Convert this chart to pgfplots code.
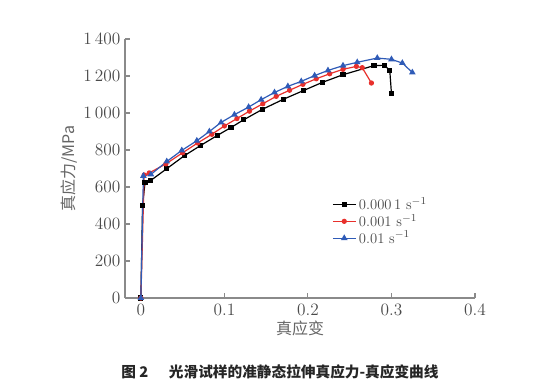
\documentclass[border=0pt]{standalone}
\usepackage{pgfplots}
\pgfplotsset{compat=1.18}
\usepackage{fontspec}
\newfontfamily\cjk{Noto Sans CJK SC}
\definecolor{cred}{HTML}{E8302C}
\definecolor{cblue}{HTML}{2F5BB7}
\definecolor{axgray}{HTML}{8A8A8A}
\definecolor{txt}{HTML}{4A4A4A}
\begin{document}
\begin{tikzpicture}
\path[use as bounding box] (0,0) rectangle (420pt,289.5pt);
\begin{axis}[
  at={(93.75pt,66pt)}, anchor=south west,
  scale only axis, width=262.5pt, height=194.25pt,
  xmin=-0.019, xmax=0.4, ymin=0, ymax=1400,
  axis lines*=left,
  axis line style={axgray, line width=0.8pt},
  tick style={axgray, line width=0.8pt},
  tick align=inside, major tick length=4pt,
  xtick={0,0.1,0.2,0.3,0.4},
  xticklabels={0,0.1,0.2,0.3,0.4},
  ytick={0,200,400,600,800,1000,1200,1400},
  yticklabels={0,200,400,600,800,{1\,000},{1\,200},{1\,400}},
  ticklabel style={font=\fontsize{13}{15}\selectfont, text=txt},
  xticklabel style={yshift=-1pt},
  xlabel={\cjk 真应变}, ylabel={\cjk 真应力/MPa},
  label style={font=\fontsize{12}{14}\selectfont, text=txt!85},
  xlabel style={yshift=3pt},
  ylabel style={yshift=-2pt},
  legend style={draw=none, fill=none, at={(0.58,0.41)}, anchor=north west,
    font=\fontsize{11}{12}\selectfont, text=txt, row sep=-2pt,
    legend cell align=left},
  every axis plot/.append style={line width=0.9pt, mark size=1.6pt},
  clip=false,
]
\addplot[black, mark=square*, mark size=1.5pt] coordinates {
(0,0) (0.002,500) (0.005,625) (0.012,636) (0.031,699) (0.052,769) (0.071,823)
(0.092,880) (0.108,922) (0.123,963) (0.146,1021) (0.171,1075) (0.195,1122)
(0.217,1165) (0.242,1207) (0.279,1256) (0.292,1258) (0.298,1228) (0.300,1104)};
\addlegendentry{0.000\,1 s$^{-1}$}
\addplot[cred, mark=*, mark size=1.5pt] coordinates {
(0,0) (0.004,665) (0.010,676) (0.030,725) (0.050,785) (0.068,838) (0.085,885)
(0.100,930) (0.115,970) (0.130,1010) (0.146,1050) (0.162,1090) (0.178,1123)
(0.194,1155) (0.210,1185) (0.226,1212) (0.242,1236) (0.258,1252) (0.265,1245)
(0.276,1162)};
\addlegendentry{0.001 s$^{-1}$}
\addplot[cblue, mark=triangle*, mark size=2pt] coordinates {
(0,0) (0.003,660) (0.012,668) (0.031,738) (0.049,798) (0.067,850) (0.082,900)
(0.096,949) (0.112,991) (0.129,1032) (0.144,1072) (0.160,1111) (0.176,1144)
(0.192,1171) (0.208,1202) (0.224,1230) (0.242,1256) (0.259,1274) (0.283,1297)
(0.300,1290) (0.313,1270) (0.325,1219)};
\addlegendentry{0.01 s$^{-1}$}
\end{axis}
\node[font=\cjk\bfseries\fontsize{11}{13}\selectfont, text=black!85] at (210pt,10.5pt)
  {图 2\hspace{1.4em}光滑试样的准静态拉伸真应力-真应变曲线};
\end{tikzpicture}
\end{document}
